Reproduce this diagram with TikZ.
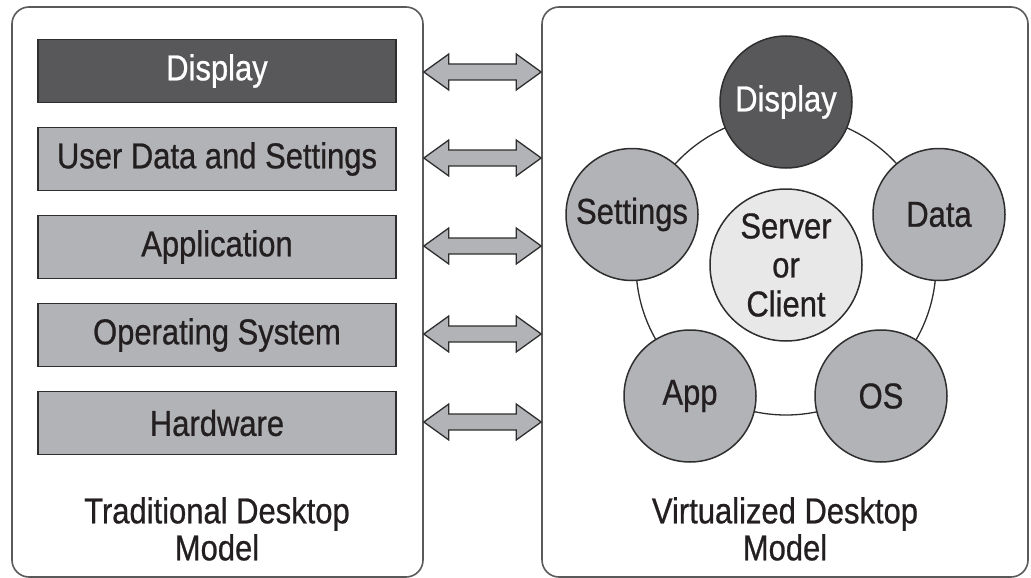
\documentclass[tikz,border=0pt]{standalone}
\usepackage{fontspec}
\setmainfont{Liberation Sans}[FakeStretch=0.86, FakeBold=0.7]
\usetikzlibrary{calc}
\definecolor{darkfill}{HTML}{58585A}
\definecolor{midfill}{HTML}{B2B3B6}
\definecolor{lightfill}{HTML}{E8E8E8}
\definecolor{edgecol}{HTML}{2E2E2E}
\definecolor{panelcol}{HTML}{5A5A5A}
\definecolor{txt}{HTML}{231F20}
\begin{document}
\begin{tikzpicture}[x=1pt,y=-1pt,
  every node/.style={font=\fontsize{36}{37}\selectfont, text=txt},
  panel/.style={draw=panelcol, line width=1.6pt, rounded corners=17pt, inner sep=0pt, minimum width=411pt, minimum height=570pt},
  layerbox/.style={draw=edgecol, line width=1.5pt, fill=midfill, inner sep=0pt, minimum width=358pt, minimum height=63pt},
  darkbox/.style={layerbox, fill=darkfill, text=white},
  circ/.style={circle, draw=edgecol, line width=1.5pt, fill=midfill, inner sep=0pt, minimum size=132pt},
  darkcirc/.style={circ, fill=darkfill, text=white},
  centercirc/.style={circ, fill=lightfill, minimum size=152pt, align=center, font=\fontsize{36}{39}\selectfont},
  ring/.style={draw=edgecol, line width=1.3pt},
  dblarrow/.style={draw=edgecol, line width=1.3pt, fill=midfill, line join=miter},
  caption/.style={align=center, anchor=north, inner sep=0pt}
]
\useasboundingbox (0,0) rectangle (1031,578);

% panels
\node[panel] (lp) at (217.5,292) {};
\node[panel, minimum width=486pt] (rp) at (785,292) {};

% layer boxes
\node[darkbox]  (b1) at (217,71)  {Display};
\node[layerbox] (b2) at (217,159) {User Data and Settings};
\node[layerbox] (b3) at (217,247) {Application};
\node[layerbox] (b4) at (217,335) {Operating System};
\node[layerbox] (b5) at (217,423) {Hardware};

% double arrows between panels
\foreach \i/\yy in {1/72,2/158,3/246,4/334,5/422}{
  \coordinate (al\i) at (lp.east |- 0,\yy);
  \coordinate (ar\i) at (rp.west |- 0,\yy);
  \draw[dblarrow] (al\i) -- ++(25,-18) -- ++(0,10)
     -- ($(ar\i)+(-25,-8)$) -- ++(0,-10) -- (ar\i) -- ++(-25,18) -- ++(0,-10)
     -- ($(al\i)+(25,8)$) -- ++(0,10) -- cycle;
}

% ring
\coordinate (ctr) at (786,265);
\draw[ring] (ctr) circle[radius=150];

% circles
\node[centercirc] (srv) at (ctr) {Server\\or\\Client};
\node[darkcirc] (cd)  at (786,102)   {Display};
\node[circ]     (cs)  at (632,214.5) {Settings};
\node[circ]     (cda) at (939,214.5) {Data};
\node[circ]     (ca)  at (690,396)   {App};
\node[circ]     (co)  at (881,396)   {OS};

% captions
\node[caption] (lt) at (217,497) {Traditional Desktop\\Model};
\node[caption] (rt) at (785,497) {Virtualized Desktop\\Model};
\end{tikzpicture}
\end{document}
